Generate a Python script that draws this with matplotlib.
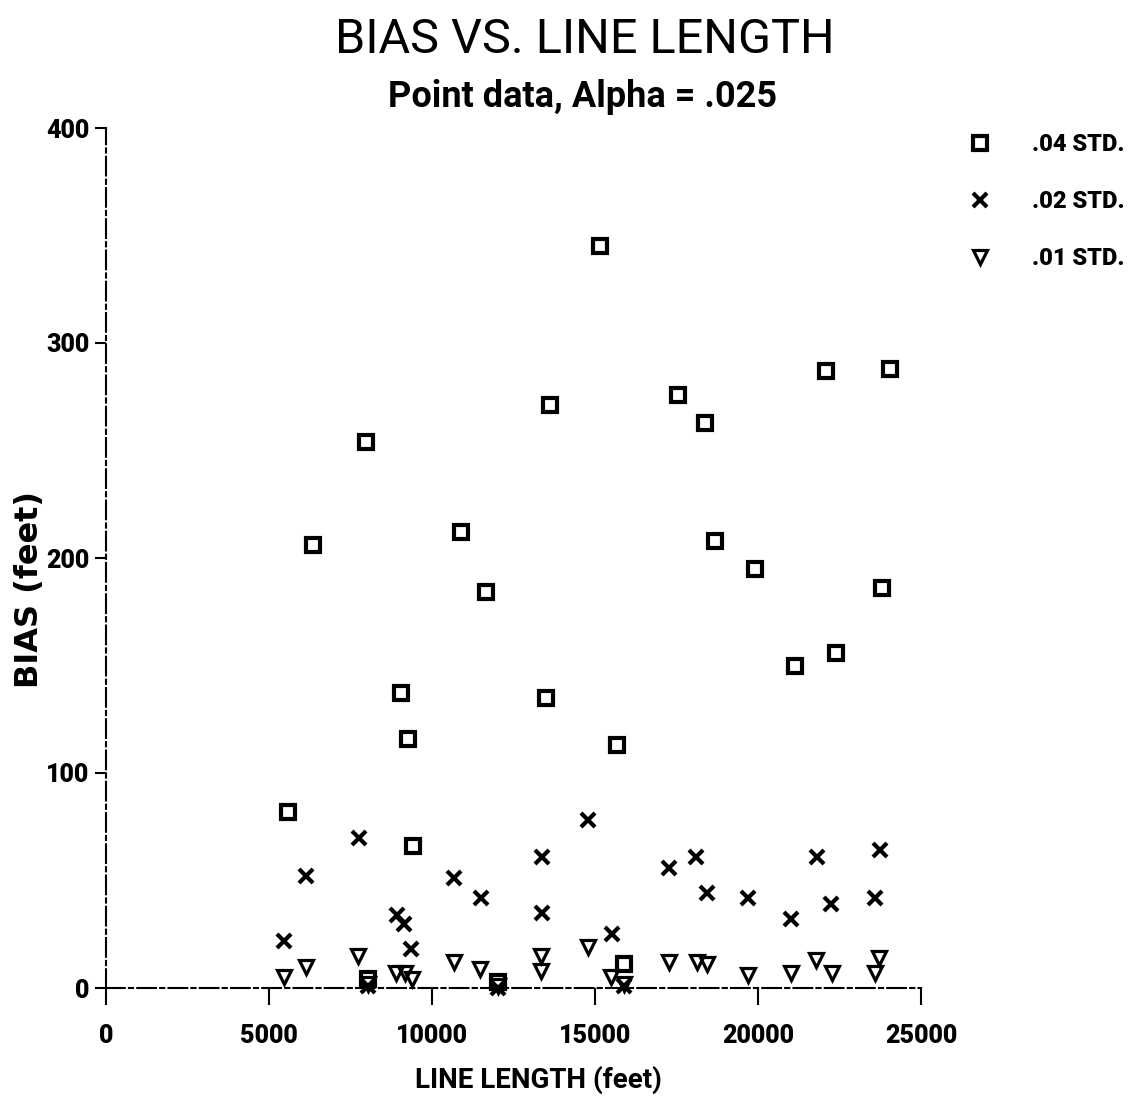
import matplotlib
matplotlib.use("Agg")
import matplotlib.pyplot as plt

# line length (feet) and bias (feet) for each error level
sq_x = [5580, 6360, 7990, 8040, 9060, 9265, 9430, 10900, 11660, 12020, 13490, 13620,
        15140, 15660, 15890, 17535, 18380, 18690, 19910, 21150, 22100, 22400, 23800, 24035]
sq_y = [82, 206, 254, 4, 137, 116, 66, 212, 184, 3, 135, 271,
        345, 113, 11, 276, 263, 208, 195, 150, 287, 156, 186, 288]

x_x = [5450, 6140, 7770, 8040, 8940, 9140, 9370, 10690, 11490, 12020, 13360, 13360,
       14800, 15530, 15890, 17260, 18110, 18430, 19690, 21000, 21800, 22250, 23580, 23730]
x_y = [22, 52, 70, 1, 34, 30, 18, 51, 42, 0, 61, 35,
       78, 25, 1, 56, 61, 44, 42, 32, 61, 39, 42, 64]

tri_x = [5470, 6140, 7740, 8040, 8910, 9160, 9390, 10670, 11460, 12020, 13340, 13340,
         14770, 15480, 15890, 17260, 18130, 18430, 19690, 21000, 21770, 22270, 23580, 23710]
tri_y = [5, 10, 15, 2, 7, 7, 4, 12, 9, 1, 15, 8,
         19, 5, 2, 12, 12, 11, 6, 7, 13, 7, 7, 14]

labels = ['.04 STD.', '.02 STD.', '.01 STD.']
xticks = [0, 5000, 10000, 15000, 20000, 25000]
yticks = [0, 100, 200, 300, 400]

fam = ['Roboto', 'DejaVu Sans']
plt.rcParams['font.family'] = fam

W, H = 1132, 1116
fig = plt.figure(figsize=(W / 100, H / 100), dpi=100)
ax = fig.add_axes([106 / W, 128 / H, 815 / W, 860 / H])

ax.plot(sq_x, sq_y, linestyle='', marker='s', markersize=10.5, markeredgewidth=3,
        markerfacecolor='none', markeredgecolor='black', label=labels[0])
ax.plot(x_x, x_y, linestyle='', marker='x', markersize=10, markeredgewidth=3,
        color='black', label=labels[1])
ax.plot(tri_x, tri_y, linestyle='', marker='v', markersize=10, markeredgewidth=2.3,
        markerfacecolor='none', markeredgecolor='black', label=labels[2])

ax.set_xlim(0, 25000)
ax.set_ylim(0, 400)
ax.set_xticks(xticks)
ax.set_yticks(yticks)
ax.set_xticklabels([str(t) for t in xticks], fontsize=18, fontweight='heavy')
ax.set_yticklabels([str(t) for t in yticks], fontsize=18, fontweight='heavy')
ax.tick_params(axis='x', direction='out', length=12, width=1.5, pad=14)
ax.tick_params(axis='y', direction='out', length=8, width=1.5, pad=4)

for s in ['top', 'right']:
    ax.spines[s].set_visible(False)
for s in ['left', 'bottom']:
    ax.spines[s].set_linewidth(1.5)
    ax.spines[s].set_linestyle((0, (9, 2, 2, 2)))
for ln in ax.lines:
    ln.set_clip_on(False)

fig.text(585 / W, 1 - 40 / H, 'BIAS VS. LINE LENGTH', ha='center', va='center',
         fontsize=35)
fig.text(583 / W, 1 - 97 / H, 'Point data, Alpha = .025', ha='center', va='center',
         fontsize=26, fontweight='bold')
fig.text(538 / W, 1 - 1080 / H, 'LINE LENGTH (feet)', ha='center', va='center',
         fontsize=20, fontweight='bold')
fig.text(30 / W, 1 - 590 / H, 'BIAS (feet)', ha='center', va='center', rotation=90,
         fontsize=23, fontweight='bold', family='DejaVu Sans')

fig.legend(loc='upper left', bbox_to_anchor=(956 / W, 1 - 121 / H), frameon=False,
           prop={'size': 17, 'weight': 'heavy', 'family': fam},
           handlelength=1.0, handletextpad=1.72, labelspacing=1.44, borderpad=0)

fig.savefig('out.png', dpi=100, facecolor='white')
